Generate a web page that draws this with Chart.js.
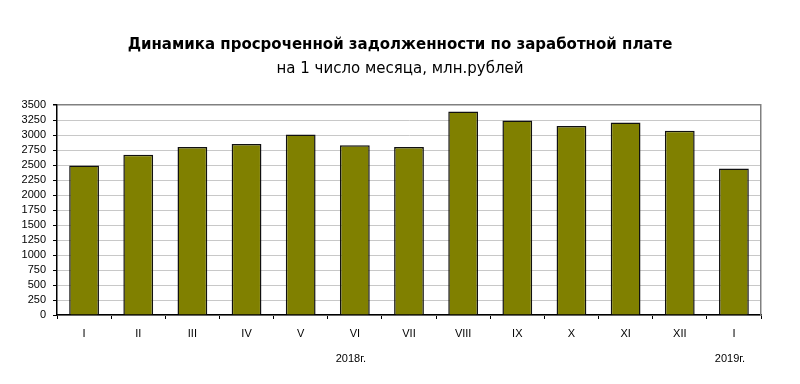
<!DOCTYPE html>
<html>
<head>
<meta charset="utf-8">
<script src="https://cdn.jsdelivr.net/npm/chart.js@4"></script>
<style>
html,body{margin:0;padding:0;background:#fff;}
#wrap{width:800px;height:384px;position:relative;}
</style>
</head>
<body>
<div id="wrap"><canvas id="c" width="800" height="384"></canvas></div>
<script>
const categories = ["I","II","III","IV","V","VI","VII","VIII","IX","X","XI","XII","I"];
const yearLabels = ["","","","","","2018г.","","","","","","","2019г."];
const values = [2490, 2670, 2800, 2850, 3010, 2830, 2800, 3390, 3240, 3150, 3210, 3070, 2440];
const titleText = "Динамика просроченной задолженности по заработной плате";
const subtitleText = "на 1 число месяца, млн.рублей";

const FONT = "'Liberation Sans', Arial, sans-serif";
const WIDE = "'DejaVu Sans', sans-serif";

new Chart(document.getElementById('c'), {
  type: 'bar',
  data: {
    labels: categories,
    datasets: [{
      data: values,
      backgroundColor: '#808000',
      borderColor: '#111',
      borderWidth: 1.5,
      borderSkipped: 'bottom',
      categoryPercentage: 1,
      barPercentage: 0.55,
      xAxisID: 'x',
      yAxisID: 'y'
    }]
  },
  options: {
    responsive: false,
    animation: false,
    devicePixelRatio: 1,
    layout: { padding: { left: 0, right: 0, top: 0, bottom: 0 } },
    plugins: {
      legend: { display: false },
      tooltip: { enabled: false },
      title: {
        display: true,
        text: titleText,
        color: '#000',
        font: { family: WIDE, size: 15, weight: 'bold' },
        padding: { top: 36, bottom: 6 }
      },
      subtitle: {
        display: true,
        text: subtitleText,
        color: '#000',
        font: { family: WIDE, size: 15, weight: 'normal' },
        padding: { top: 0, bottom: 27 }
      }
    },
    scales: {
      x: {
        type: 'category',
        position: 'bottom',
        offset: true,
        grid: {
          offset: true,
          drawOnChartArea: false,
          drawTicks: true,
          tickLength: 4,
          tickColor: '#000'
        },
        border: { display: true, color: '#000', width: 1.5 },
        ticks: { color: '#000', font: { family: FONT, size: 11 }, padding: 8, maxRotation: 0, autoSkip: false },
        afterFit: (s) => { s.height = 25; }
      },
      x2: {
        type: 'category',
        position: 'bottom',
        labels: yearLabels,
        offset: true,
        grid: { display: false, drawTicks: false },
        border: { display: false },
        ticks: { color: '#000', font: { family: FONT, size: 11 }, padding: 12, maxRotation: 0, autoSkip: false, labelOffset: -4 },
        afterFit: (s) => { s.height = 44; }
      },
      y: {
        position: 'left',
        min: 0,
        max: 3500,
        ticks: {
          stepSize: 250,
          autoSkip: false,
          color: '#000',
          font: { family: FONT, size: 11 },
          padding: 7,
          callback: (v) => String(v)
        },
        grid: {
          color: (ctx) => (ctx.tick && ctx.tick.value === 3500) ? '#808080' : '#c8c8c8',
          lineWidth: (ctx) => (ctx.tick && ctx.tick.value === 3500) ? 1.5 : 1,
          tickColor: '#000',
          tickLength: 4
        },
        border: { display: true, color: '#000', width: 1.5 },
        afterFit: (s) => { s.width = 57; }
      },
      y2: {
        position: 'right',
        min: 0,
        max: 3500,
        ticks: { display: false },
        grid: { drawOnChartArea: false, drawTicks: false },
        border: { display: true, color: '#808080', width: 1.5 },
        afterFit: (s) => { s.width = 39; }
      }
    }
  }
});
</script>
</body>
</html>
